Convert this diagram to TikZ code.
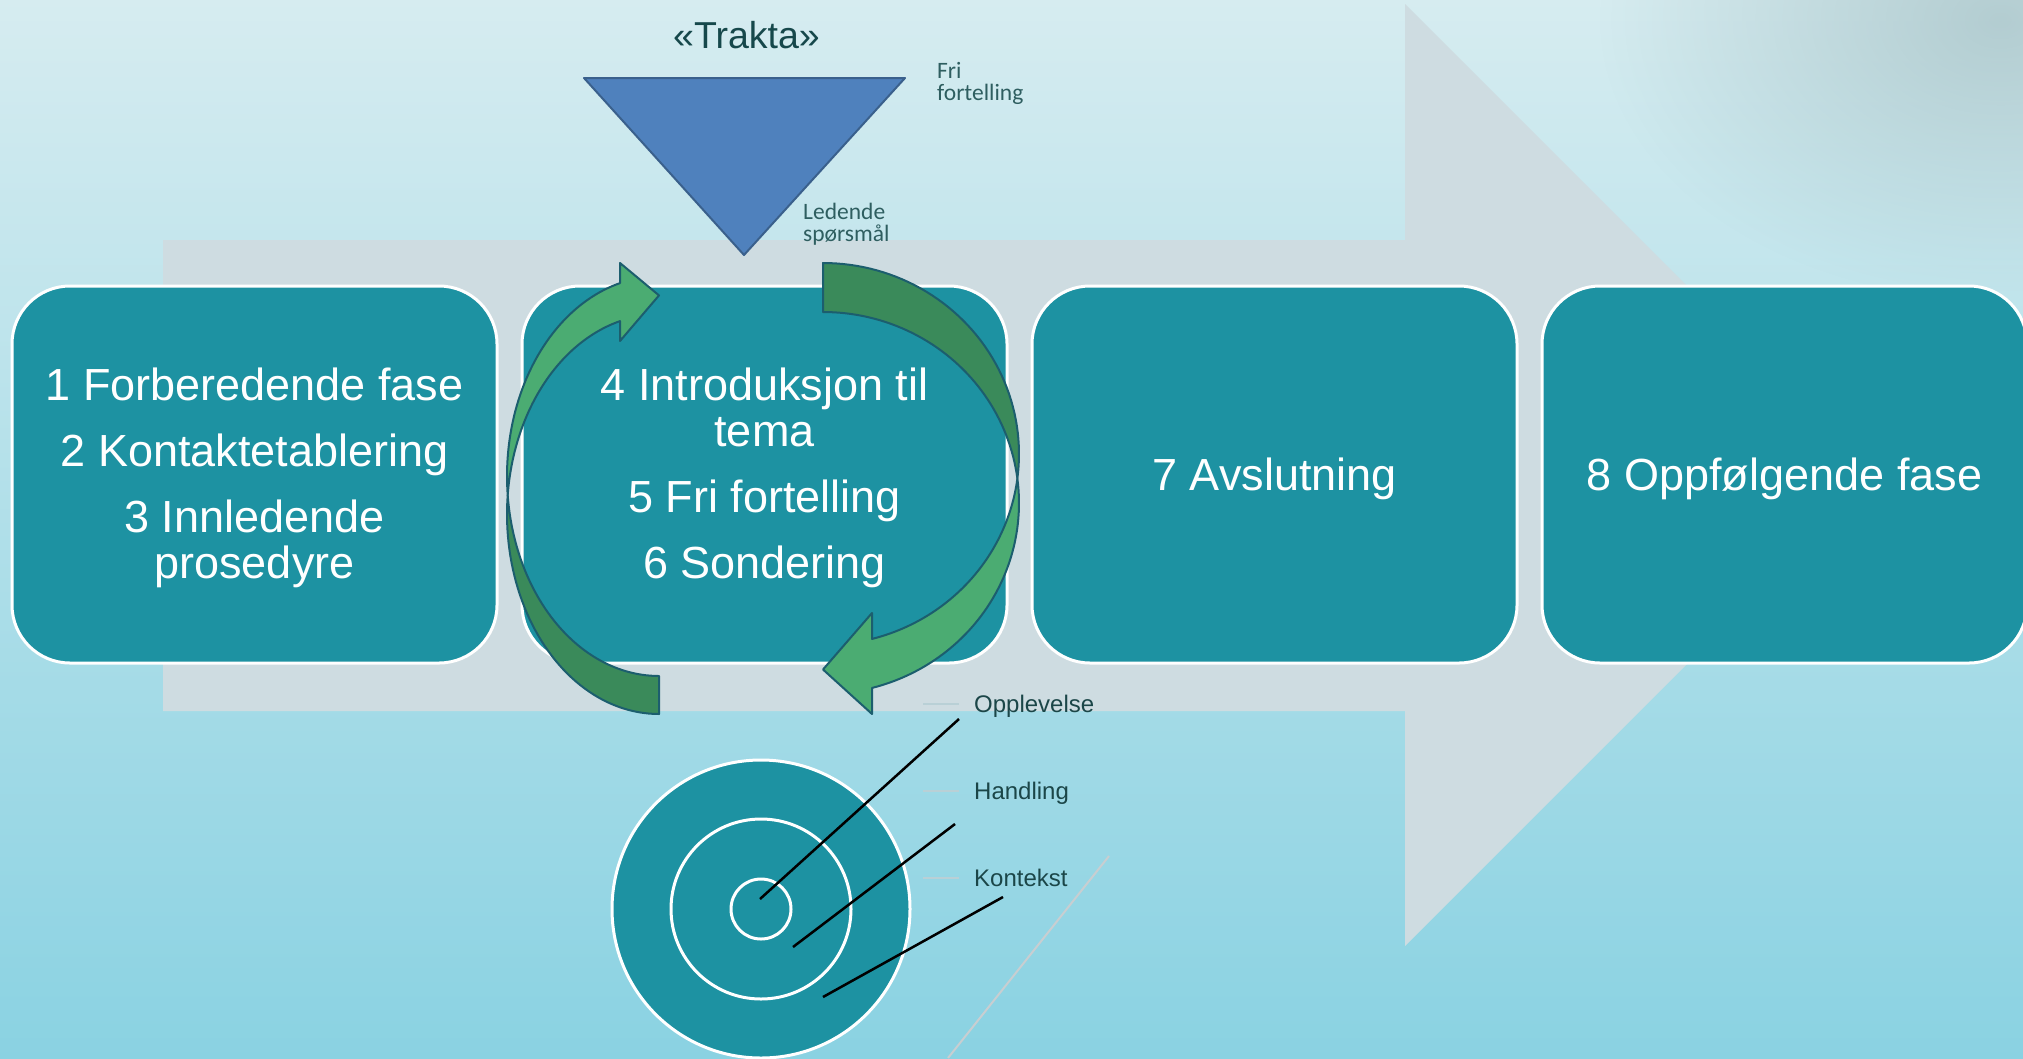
\documentclass[tikz,border=0pt]{standalone}
\usepackage{fontspec}
\setmainfont{Liberation Sans}
\newfontfamily\carlfont{Carlito}
\usetikzlibrary{fadings}
\definecolor{bgtop}{RGB}{214,236,240}
\definecolor{bgmid}{RGB}{172,225,236}
\definecolor{bgbot}{RGB}{138,210,226}
\definecolor{blobgrey}{RGB}{165,192,196}
\definecolor{arrowgrey}{RGB}{206,220,225}
\definecolor{boxteal}{RGB}{29,146,162}
\definecolor{funnelblue}{RGB}{79,129,189}
\definecolor{funneledge}{RGB}{58,96,140}
\definecolor{titleteal}{RGB}{22,72,75}
\definecolor{noteteal}{RGB}{46,94,96}
\definecolor{lbldark}{RGB}{27,70,72}
\definecolor{tickgrey}{RGB}{185,208,214}
\definecolor{diaggrey}{RGB}{200,206,209}
\definecolor{greenlight}{RGB}{75,172,114}
\definecolor{greendark}{RGB}{58,138,90}
\definecolor{greenedge}{RGB}{28,94,110}
\newcommand\stacklines[1]{\vtop{\halign{\hfil##\hfil\cr#1\crcr}}}
\newcommand\stackleft[1]{\vtop{\halign{##\hfil\cr#1\crcr}}}
\tikzfading[name=blobfade, inner color=transparent!30, outer color=transparent!100]
\begin{document}
\begin{tikzpicture}[x=1pt,y=-1pt,
  stagebox/.style={draw=white, line width=3pt, fill=boxteal, rounded corners=58pt,
    minimum width=485pt, minimum height=377pt, inner sep=0pt},
  boxtext/.style={text=white, font=\fontsize{45}{46.5}\selectfont, inner sep=0pt, anchor=base},
  note/.style={text=noteteal, font=\carlfont\fontsize{23.5}{22}\selectfont, inner sep=0pt, anchor=base west},
  lbl/.style={text=lbldark, font=\fontsize{24}{28}\selectfont, inner sep=0pt, anchor=base west},
  ring/.style={draw=white, line width=3pt, fill=boxteal},
  pointer/.style={black, line width=2.5pt},
  tickline/.style={tickgrey, line width=2pt},
  lightface/.style={fill=greenlight, draw=greenedge, line width=2pt, line join=round},
  darkface/.style={fill=greendark, draw=greenedge, line width=2pt, line join=round}]
\useasboundingbox (0,0) rectangle (2023,1058);
\clip (0,0) rectangle (2023,1058);
% background
\shade[top color=bgtop, middle color=bgmid, bottom color=bgbot] (0,0) rectangle (2023,1058);
\fill[blobgrey, path fading=blobfade] (2000,20) ellipse (400 and 280);
% big process arrow
\fill[arrowgrey] (163,240) -- (1405,240) -- (1405,4) -- (1876,475) -- (1405,946)
  -- (1405,711) -- (163,711) -- cycle;
% stage boxes
\node[stagebox] (b1) at (254.5,474.5) {};
\node[stagebox] (b2) at (764.5,474.5) {};
\node[stagebox] (b3) at (1274.5,474.5) {};
\node[stagebox] (b4) at (1784.5,474.5) {};
\node[boxtext] (t1) at (254.5,400) {\stacklines{1 Forberedende fase\cr\noalign{\vskip19.5pt}
  2 Kontaktetablering\cr\noalign{\vskip19.5pt} 3 Innledende\cr prosedyre}};
\node[boxtext] (t2) at (764.5,400) {\stacklines{4 Introduksjon til\cr tema\cr\noalign{\vskip19.5pt}
  5 Fri fortelling\cr\noalign{\vskip19.5pt} 6 Sondering}};
\node[boxtext] (t3) at (1274.5,490) {7 Avslutning};
\node[boxtext] (t4) at (1784.5,490) {8 Oppfølgende fase};
% funnel
\draw[fill=funnelblue, draw=funneledge, line width=2pt, line join=round]
  (584,78) -- (905,78) -- (744,255) -- cycle;
\node[text=titleteal, font=\fontsize{37.5}{40}\selectfont, inner sep=0pt, anchor=base]
  (trakta) at (746.5,48.3) {«Trakta»};
\node[note] (fri) at (937,78) {\stackleft{Fri\cr fortelling}};
\node[note] (led) at (803,219) {\stackleft{Ledende\cr spørsmål}};
% left curved arrow (dark back, then light front with head)
\path[darkface] plot[domain=185.46:90, samples=50, variable=\t]
    ({659+152*cos(\t)},{514.2+199.8*sin(\t)})
  -- plot[domain=90:174.54, samples=50, variable=\t]
    ({659+152*cos(\t)},{476.2+199.8*sin(\t)}) -- cycle;
\path[lightface] plot[domain=174.54:255.14, samples=50, variable=\t]
    ({659+152*cos(\t)},{476.2+199.8*sin(\t)})
  -- (620,263) -- (659,295.4) -- (620,341)
  -- plot[domain=255.14:185.46, samples=50, variable=\t]
    ({659+152*cos(\t)},{514.2+199.8*sin(\t)}) -- cycle;
% right curved arrow
\path[darkface] plot[domain=-90:7.37, samples=50, variable=\t]
    ({823+196*cos(\t)},{454+191*sin(\t)})
  -- plot[domain=-7.37:-90, samples=50, variable=\t]
    ({823+196*cos(\t)},{503+191*sin(\t)}) -- cycle;
\path[lightface] plot[domain=-7.37:75.5, samples=50, variable=\t]
    ({823+196*cos(\t)},{503+191*sin(\t)})
  -- (872,714) -- (823,669.5) -- (872,613)
  -- plot[domain=75.5:7.37, samples=50, variable=\t]
    ({823+196*cos(\t)},{454+191*sin(\t)}) -- cycle;
% grey diagonal
\draw[diaggrey, line width=2pt] (1109,856) -- (948,1058);
% target circles
\coordinate (c) at (761,909);
\draw[ring] (c) circle (149);
\draw[ring] (c) circle (90);
\draw[ring] (c) circle (30);
% labels
\node[lbl] (l1) at (974,712.3) {Opplevelse};
\node[lbl] (l2) at (974,799.3) {Handling};
\node[lbl] (l3) at (974,886) {Kontekst};
\draw[tickline] (923,704) -- (959,704);
\draw[tickline] (923,791) -- (959,791);
\draw[tickline] (923,878) -- (959,878);
% pointer lines
\coordinate (p1a) at (760,899); \coordinate (p1b) at (959,719);
\coordinate (p2a) at (793,947); \coordinate (p2b) at (955,824);
\coordinate (p3a) at (823,997); \coordinate (p3b) at (1003,897);
\draw[pointer] (p1a) -- (p1b);
\draw[pointer] (p2a) -- (p2b);
\draw[pointer] (p3a) -- (p3b);
\end{tikzpicture}
\end{document}
